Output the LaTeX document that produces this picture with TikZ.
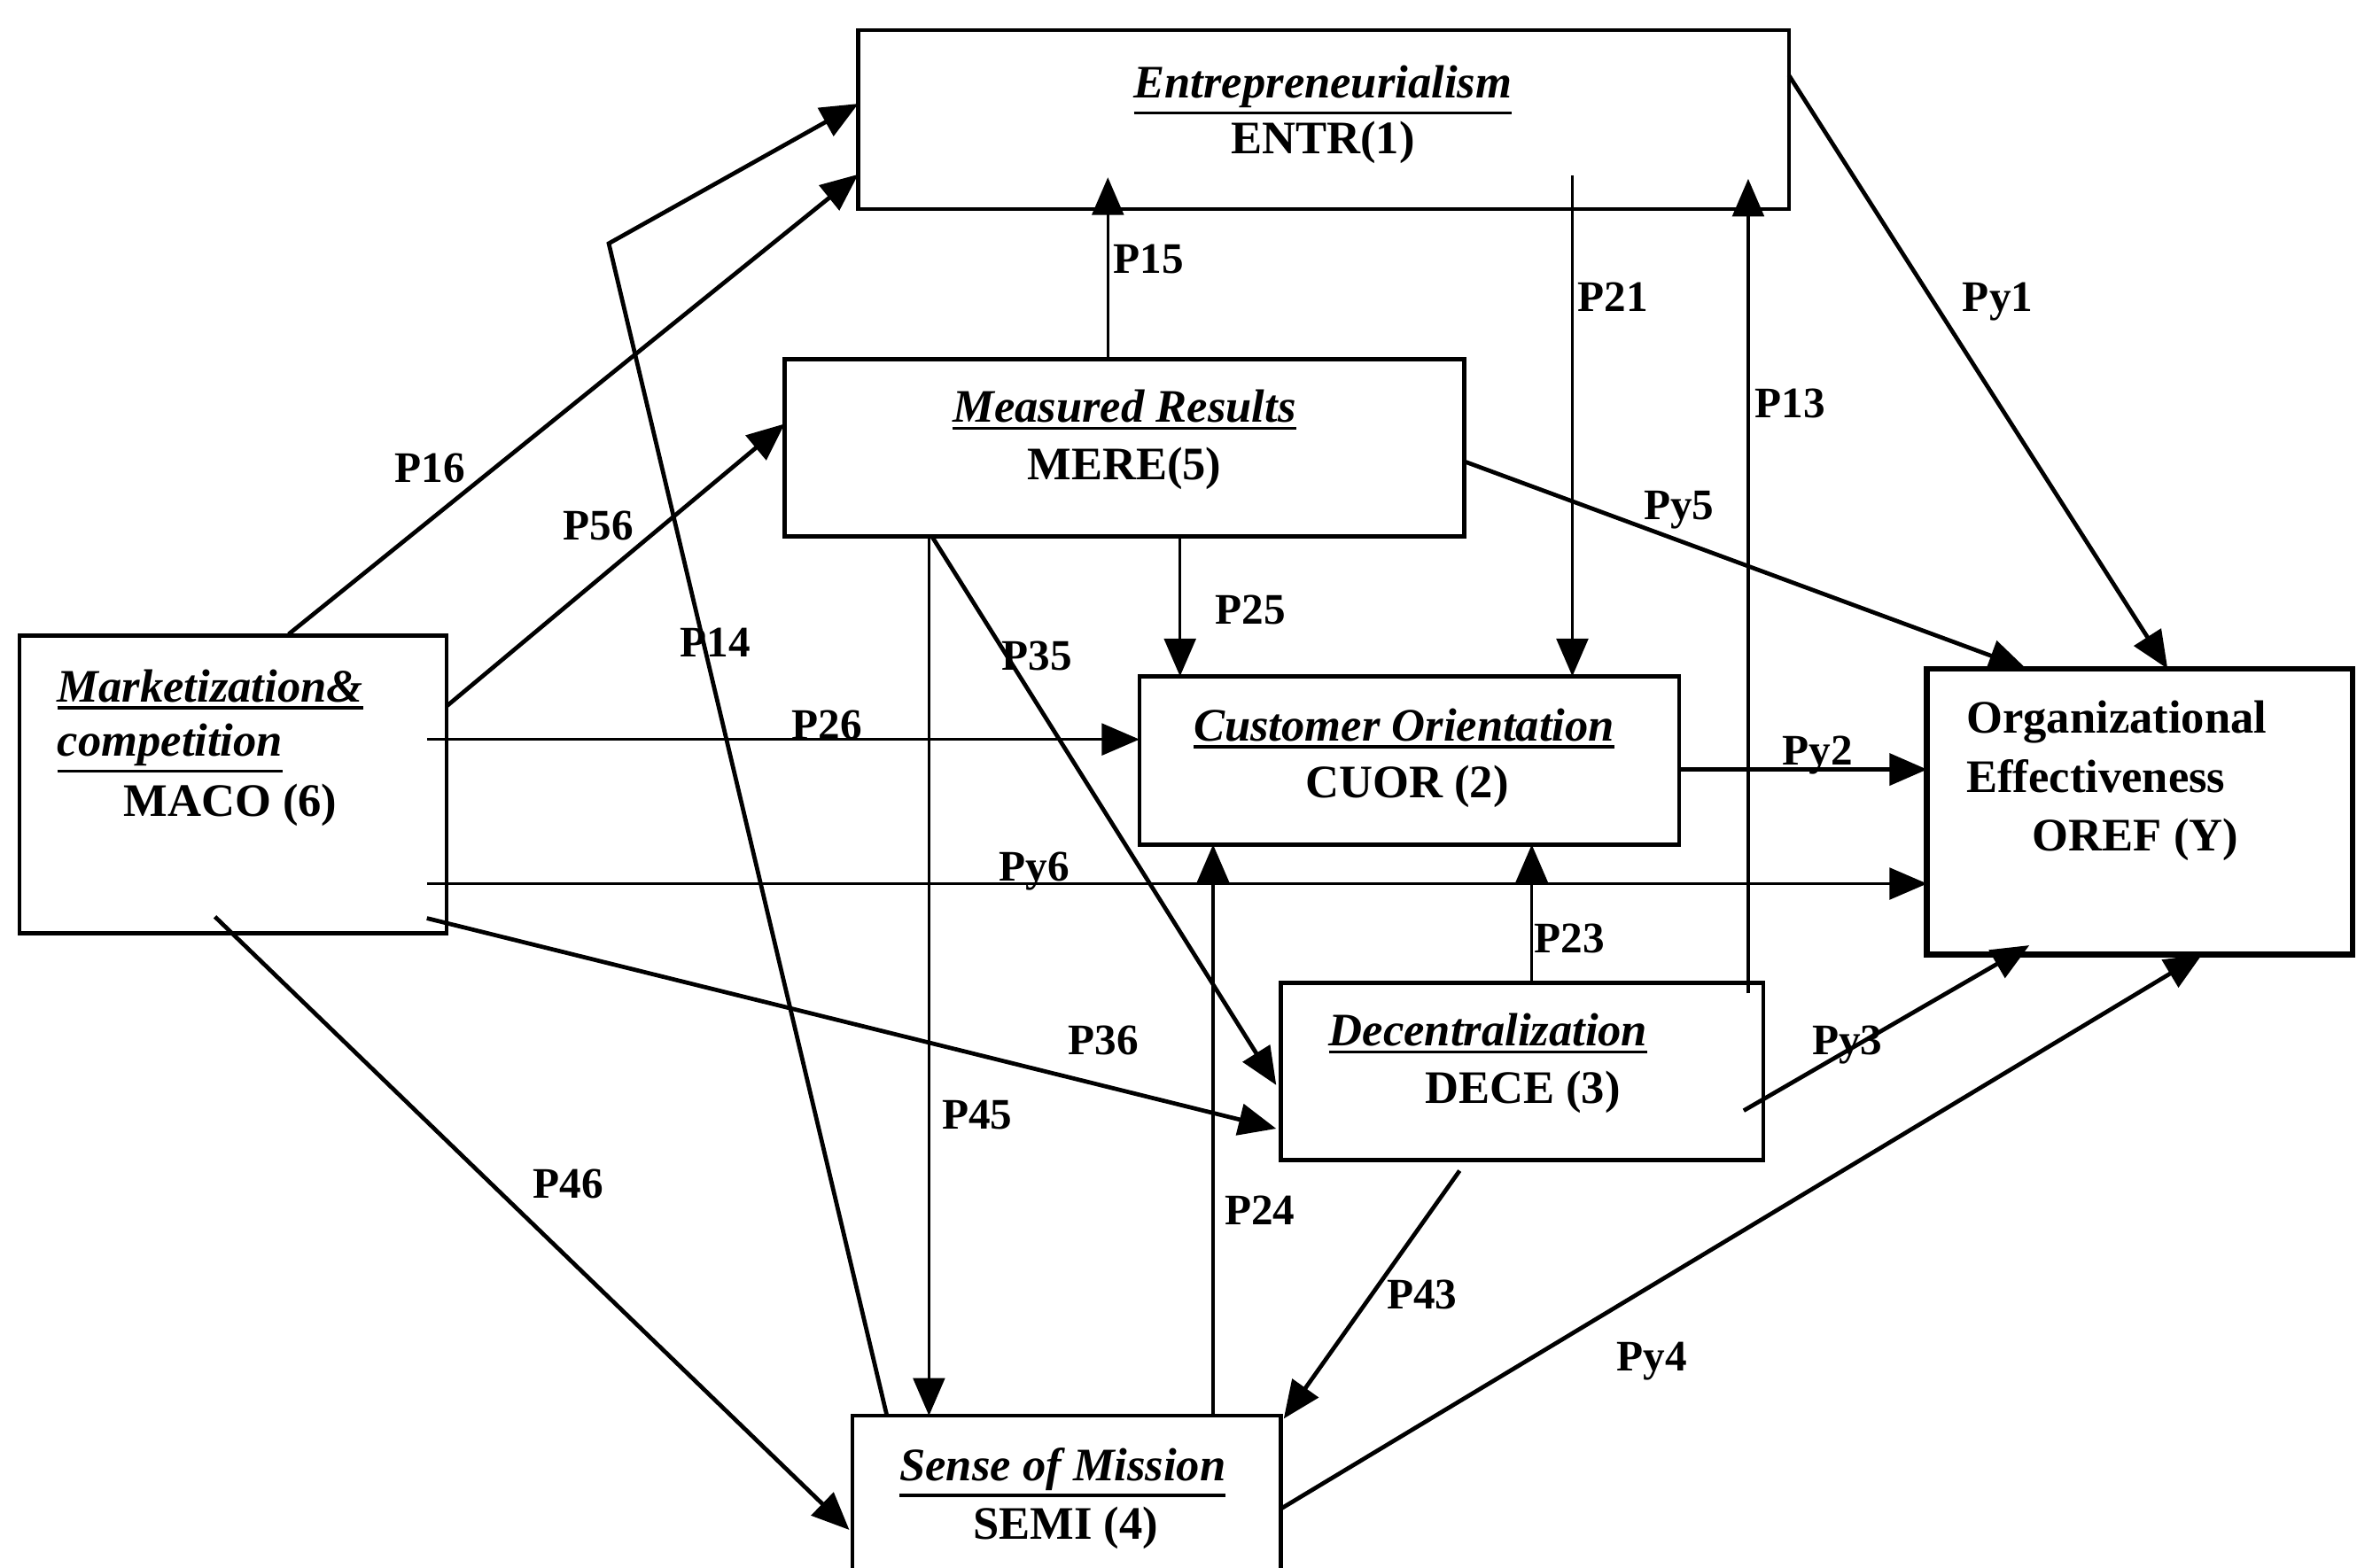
\documentclass[tikz,border=0pt]{standalone}
\usepackage{fontspec}
\setmainfont{Liberation Serif}
\usetikzlibrary{arrows.meta,calc}
% underline drawn as a solid rule below the baseline
\newcommand{\thickul}[1]{\leavevmode\vtop{\hbox{#1}\kern2.5pt\hrule height 2.2pt}}

\begin{document}
\begin{tikzpicture}[x=1pt,y=-1pt,
  box/.style={draw, line width=2.6pt, rectangle, inner sep=0pt, outer sep=0pt, anchor=north west},
  ttl/.style={font=\fontsize{31}{38}\selectfont\bfseries\itshape, inner sep=0pt, anchor=base},
  code/.style={font=\fontsize{31}{38}\selectfont\bfseries, inner sep=0pt, anchor=base},
  lbl/.style={font=\fontsize{29}{34}\selectfont\bfseries, inner sep=0pt, text height=20pt, text depth=0pt},
  link/.style={line width=2.8pt, -{Triangle[length=25pt,width=21pt]}},
  thin link/.style={line width=2.0pt, -{Triangle[length=25pt,width=21pt]}},
]
\useasboundingbox (0,0) rectangle (1568,1043);
\clip (0,0) rectangle (1568,1043);
\fill[white] (0,0) rectangle (1568,1043);

% ---------- boxes ----------
\node[box, minimum width=619pt, minimum height=119pt] (entr) at (571,20) {};
\node[box, minimum width=452pt, minimum height=118pt] (mere) at (522,239) {};
\node[box, minimum width=284pt, minimum height=198pt] (maco) at (13,423) {};
\node[box, minimum width=359pt, minimum height=112pt] (cuor) at (758,450) {};
\node[box, line width=4pt, minimum width=283pt, minimum height=190pt] (oref) at (1282,445) {};
\node[box, minimum width=321pt, minimum height=118pt] (dece) at (852,654) {};
\node[box, minimum width=285pt, minimum height=140pt] (semi) at (567,942) {};

% ---------- box texts ----------
\node[ttl]  (entrT) at (880,65)  {\thickul{Entrepreneurialism}};
\node[code] (entrC) at (880,102) {ENTR(1)};
\node[ttl]  (mereT) at (748,281) {\thickul{Measured Results}};
\node[code] (mereC) at (748,319) {MERE(5)};
\node[ttl, anchor=base west]  (macoT) at (38,467) {\thickul{Marketization\&}};
\node[ttl, anchor=base west]  (macoU) at (38,503) {\thickul{competition}};
\node[code, anchor=base west] (macoC) at (82,543) {MACO (6)};
\node[ttl]  (cuorT) at (934,493) {\thickul{Customer Orientation}};
\node[code] (cuorC) at (936,531) {CUOR (2)};
\node[code, anchor=base west] (orefA) at (1308,488) {Organizational};
\node[code, anchor=base west] (orefB) at (1308,527) {Effectiveness};
\node[code, anchor=base west] (orefC) at (1352,566) {OREF (Y)};
\node[ttl]  (deceT) at (990,696) {\thickul{Decentralization}};
\node[code] (deceC) at (1013,734) {DECE (3)};
\node[ttl]  (semiT) at (707,985) {\thickul{Sense of Mission}};
\node[code] (semiC) at (709,1024) {SEMI (4)};

% ---------- paths ----------
\coordinate (bend14) at (405,162);

\draw[link] ($(maco.north west)+(179,-1)$) -- ($(entr.north west)+(0,96)$);      % P16
\draw[link, line join=miter] ($(semi.north west)+(23,0)$) -- (bend14) -- ($(entr.north west)+(0,49)$); % P14
\draw[link] ($(maco.north west)+(284,47)$) -- ($(mere.north west)+(0,43)$);      % P56
\draw[thin link] ($(mere.north west)+(215,0)$) -- ($(entr.north west)+(166,98)$);     % P15
\draw[thin link] ($(entr.north west)+(475,97)$) -- ($(cuor.north west)+(288,0)$);     % P21
\draw[thin link] ($(dece.north west)+(311,7)$) -- ($(entr.north west)+(592,99)$);     % P13
\draw[link] ($(entr.north west)+(619,30)$) -- ($(oref.north west)+(160,0)$);     % Py1
\draw[link] ($(mere.north west)+(452,68)$) -- ($(oref.north west)+(66,0)$);      % Py5
\draw[thin link] ($(mere.north west)+(263,118)$) -- ($(cuor.north west)+(27,0)$);     % P25
\draw[thin link] ($(mere.north west)+(96,118)$) -- ($(semi.north west)+(51,0)$);      % P45
\draw[link] ($(mere.north west)+(98,118)$) -- ($(dece.north west)+(-3,68)$);     % P35
\draw[thin link] ($(maco.north west)+(271,69)$) -- ($(cuor.north west)+(0,42)$);      % P26
\draw[link] ($(cuor.north west)+(359,62)$) -- ($(oref.north west)+(0,67)$);      % Py2
\draw[thin link] ($(maco.north west)+(271,165)$) -- ($(oref.north west)+(0,143)$);    % Py6
\draw[link] ($(maco.north west)+(271,188)$) -- ($(dece.north west)+(-3,97)$);    % P36
\draw[link] ($(maco.north west)+(130,187)$) -- ($(semi.north west)+(-2,76)$);    % P46
\draw[thin link] ($(semi.north west)+(240,0)$) -- ($(cuor.north west)+(49,112)$);     % P24
\draw[thin link] ($(dece.north west)+(167,0)$) -- ($(cuor.north west)+(261,112)$);    % P23
\draw[link] ($(dece.north west)+(308,85)$) -- ($(oref.north west)+(68,184)$);    % Py3
\draw[link] ($(semi.north west)+(285,62)$) -- ($(oref.north west)+(183,190)$);   % Py4
\draw[link] ($(dece.north west)+(119,125)$) -- ($(semi.north west)+(287,2)$);    % P43

% ---------- path labels ----------
\node[lbl] (l16) at (286,311) {P16};
\node[lbl] (l56) at (398,349) {P56};
\node[lbl] (l14) at (476,427) {P14};
\node[lbl] (l15) at (764,172) {P15};
\node[lbl] (l21) at (1073,197) {P21};
\node[lbl] (l13) at (1191,268) {P13};
\node[lbl] (ly1) at (1329,197) {Py1};
\node[lbl] (ly5) at (1117,336) {Py5};
\node[lbl] (l25) at (832,405) {P25};
\node[lbl] (l35) at (690,436) {P35};
\node[lbl] (l26) at (550,482) {P26};
\node[lbl] (ly2) at (1209,499) {Py2};
\node[lbl] (ly6) at (688,576) {Py6};
\node[lbl] (l36) at (734,692) {P36};
\node[lbl] (l45) at (650,741) {P45};
\node[lbl] (l23) at (1044,624) {P23};
\node[lbl] (ly3) at (1229,692) {Py3};
\node[lbl] (l46) at (378,787) {P46};
\node[lbl] (l24) at (838,805) {P24};
\node[lbl] (l43) at (946,861) {P43};
\node[lbl] (ly4) at (1099,902) {Py4};
\end{tikzpicture}
\end{document}
